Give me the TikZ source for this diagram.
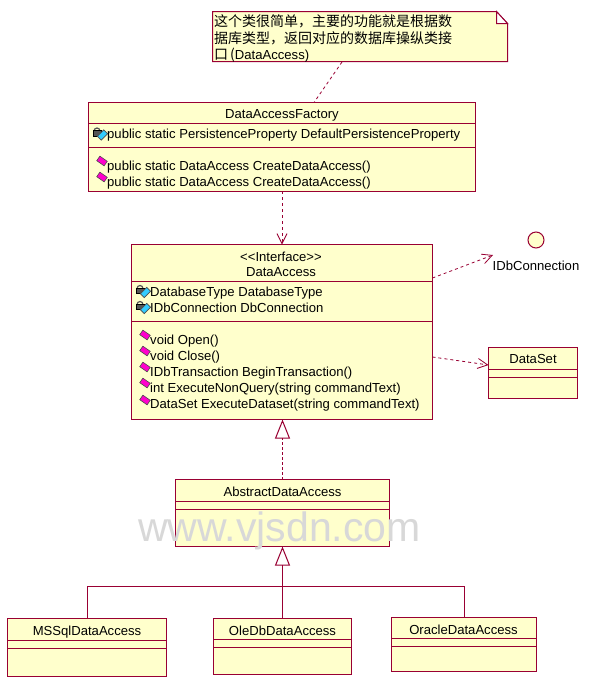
\documentclass[tikz,border=0pt]{standalone}
\usepackage{fontspec}
\setmainfont{Liberation Sans}
\newfontfamily\cjkfont{Noto Sans CJK SC}
\usetikzlibrary{arrows.meta}
\definecolor{umlline}{HTML}{990033}
\definecolor{umlfill}{HTML}{FFFFCC}
\definecolor{markgrey}{HTML}{D8D8D8}
\definecolor{opmagenta}{HTML}{FF00CC}
\definecolor{attrcyan}{HTML}{33CCFF}
\definecolor{lockgrey}{HTML}{555555}
\tikzset{
  x=1pt,y=-1pt,
  umlbox/.style={draw=umlline,fill=umlfill,line width=1pt,anchor=north west,inner sep=0pt,outer sep=0pt},
  sepline/.style={draw=umlline,line width=1pt},
  rowtext/.style={anchor=west,inner sep=0pt,font=\fontsize{13.1}{13.1}\selectfont,text height=10pt,text depth=.5pt},
  titletext/.style={anchor=center,inner sep=0pt,font=\fontsize{13.1}{13.1}\selectfont,text height=10pt,text depth=.5pt},
  notetext/.style={anchor=west,inner sep=0pt,font=\fontsize{14}{14}\cjkfont,text height=11.5pt,text depth=1pt},
  dep/.style={draw=umlline,line width=.8pt,dash pattern=on 3pt off 3pt,-{Straight Barb[length=10pt,width=10pt,line width=.8pt]}},
  notelink/.style={draw=umlline,line width=.8pt,dash pattern=on 3pt off 3pt},
  real/.style={draw=umlline,line width=1pt,dash pattern=on 3pt off 2pt,-{Triangle[open,length=19pt,width=15pt,line width=1pt]}},
  gen/.style={draw=umlline,line width=1pt,-{Triangle[open,length=19pt,width=15pt,line width=1pt]}},
  branch/.style={draw=umlline,line width=1pt},
  opicon/.style={rectangle,rotate=-35,draw=black!70,fill=opmagenta,line width=.6pt,inner sep=0pt,minimum width=9pt,minimum height=5.5pt},
  attricon/.style={rectangle,rotate=45,draw=black!70,fill=attrcyan,line width=.6pt,inner sep=0pt,minimum width=9pt,minimum height=5.5pt},
  lockbody/.style={rectangle,fill=lockgrey,draw=black,line width=.5pt,inner sep=0pt,minimum width=8pt,minimum height=5.5pt},
}
\newcommand{\attrmark}[3]{% name, x, y of the text centre line
  \draw[lockgrey,line width=1.2pt] (#2-13,#3-3) arc[start angle=180,end angle=360,radius=3];
  \node[lockbody] (#1l) at (#2-10,#3-1) {};
  \node[attricon] (#1d) at (#2-4.5,#3+1) {};
}
\begin{document}
\begin{tikzpicture}
\useasboundingbox (0,0) rectangle (590,689);
\fill[white] (0,0) rectangle (590,689);

% note
\coordinate (n1) at (212.5,11.5);
\coordinate (n2) at (496.5,11.5);
\coordinate (n3) at (507.5,23.5);
\coordinate (n4) at (507.5,61.5);
\coordinate (n5) at (212.5,61.5);
\coordinate (n6) at (496.5,23.5);
\draw[draw=umlline,fill=umlfill,line width=1pt] (n1) -- (n2) -- (n3) -- (n4) -- (n5) -- cycle;
\draw[draw=umlline,fill=white,line width=1pt] (n2) -- (n6) -- (n3) -- cycle;
\node[notetext] (note1) at (214,21.5) {这个类很简单，主要的功能就是根据数};
\node[notetext] (note2) at (214,38) {据库类型，返回对应的数据库操纵类接};
\node[notetext] (note3) at (214,54) {口\hspace{2pt}(\fontspec{Liberation Sans}\fontsize{13.1}{13.1}\selectfont DataAccess)};

% factory
\node[umlbox,minimum width=387pt,minimum height=88.5pt] (fac) at (88.5,102.5) {};
\draw[sepline] (88.5,123.5) -- (475.5,123.5);
\draw[sepline] (88.5,147.5) -- (475.5,147.5);
\node[titletext] (factitle) at (282,114) {DataAccessFactory};
\attrmark{fa}{107}{134}
\node[rowtext] (fa1) at (107,134) {public static PersistenceProperty DefaultPersistenceProperty};
\node[opicon] (fo1i) at (102,161) {};
\node[rowtext] (fo1) at (107,165.5) {public static DataAccess CreateDataAccess()};
\node[opicon] (fo2i) at (102,177) {};
\node[rowtext] (fo2) at (107,181.5) {public static DataAccess CreateDataAccess()};

% interface
\node[umlbox,minimum width=301pt,minimum height=175pt] (da) at (131.5,244.5) {};
\draw[sepline] (131.5,281.5) -- (432.5,281.5);
\draw[sepline] (131.5,321.5) -- (432.5,321.5);
\node[titletext] (dast) at (281,256.5) {<{}<Interface>{}>};
\node[titletext] (datitle) at (281,272) {DataAccess};
\attrmark{da1}{150}{291.5}
\node[rowtext] (da1) at (150,291.5) {DatabaseType DatabaseType};
\attrmark{da2}{150}{307.5}
\node[rowtext] (da2) at (150,307.5) {IDbConnection DbConnection};
\node[opicon] (op1i) at (145,335) {};
\node[rowtext] (op1) at (150,339.5) {void Open()};
\node[opicon] (op2i) at (145,351) {};
\node[rowtext] (op2) at (150,355.5) {void Close()};
\node[opicon] (op3i) at (145,367) {};
\node[rowtext] (op3) at (150,371.5) {IDbTransaction BeginTransaction()};
\node[opicon] (op4i) at (145,383) {};
\node[rowtext] (op4) at (150,387.5) {int ExecuteNonQuery(string commandText)};
\node[opicon] (op5i) at (145,400) {};
\node[rowtext] (op5) at (150,404) {DataSet ExecuteDataset(string commandText)};

% lollipop interface
\node[circle,draw=umlline,fill=umlfill,line width=1pt,minimum size=16pt,inner sep=0pt] (idb) at (536,240) {};
\node[titletext] (idblabel) at (536,266) {IDbConnection};

% DataSet
\node[umlbox,minimum width=89pt,minimum height=51pt] (ds) at (488.5,347.5) {};
\draw[sepline] (488.5,369.5) -- (577.5,369.5);
\draw[sepline] (488.5,377.5) -- (577.5,377.5);
\node[titletext] (dstitle) at (533,359) {DataSet};

% abstract
\node[umlbox,minimum width=214pt,minimum height=67pt] (abs) at (175.5,479.5) {};
\draw[sepline] (175.5,501.5) -- (389.5,501.5);
\draw[sepline] (175.5,509.5) -- (389.5,509.5);
\node[titletext] (abstitle) at (282.5,491.5) {AbstractDataAccess};

% concrete classes
\node[umlbox,minimum width=159pt,minimum height=58pt] (ms) at (7.5,618.5) {};
\draw[sepline] (7.5,640.5) -- (166.5,640.5);
\draw[sepline] (7.5,648.5) -- (166.5,648.5);
\node[titletext] (mstitle) at (87,630.5) {MSSqlDataAccess};
\node[umlbox,minimum width=138pt,minimum height=56pt] (ole) at (213.5,618.5) {};
\draw[sepline] (213.5,639.5) -- (351.5,639.5);
\draw[sepline] (213.5,647.5) -- (351.5,647.5);
\node[titletext] (oletitle) at (282.5,630.5) {OleDbDataAccess};
\node[umlbox,minimum width=145pt,minimum height=54pt] (ora) at (391.5,617.5) {};
\draw[sepline] (391.5,638.5) -- (536.5,638.5);
\draw[sepline] (391.5,646.5) -- (536.5,646.5);
\node[titletext] (oratitle) at (463.5,629.5) {OracleDataAccess};

% connectors
\coordinate (noteend) at (342,62);
\coordinate (facend) at (314,102.5);
\draw[notelink] (noteend) -- (facend);
\draw[dep] (fac.south -| da.north) -- (da.north);
\coordinate (d1s) at (432.5,278);
\coordinate (d1e) at (493,255);
\draw[dep] (d1s) -- (d1e);
\coordinate (d2s) at (432.5,357);
\draw[dep] (d2s) -- (ds.west |- 0,365);
\draw[real] (abs.north) -- (abs.north |- da.south);
\coordinate (junc) at (282.5,586.5);
\draw[gen] (ole.north) -- (abs.south);
\draw[branch] (ms.north) |- (junc);
\draw[branch] (ora.north) |- (junc);

% watermark
\node[anchor=base,inner sep=0pt,text=markgrey,font=\fontsize{41}{41}\selectfont] (mark) at (279.5,541) {www.vjsdn.com};
\end{tikzpicture}
\end{document}
